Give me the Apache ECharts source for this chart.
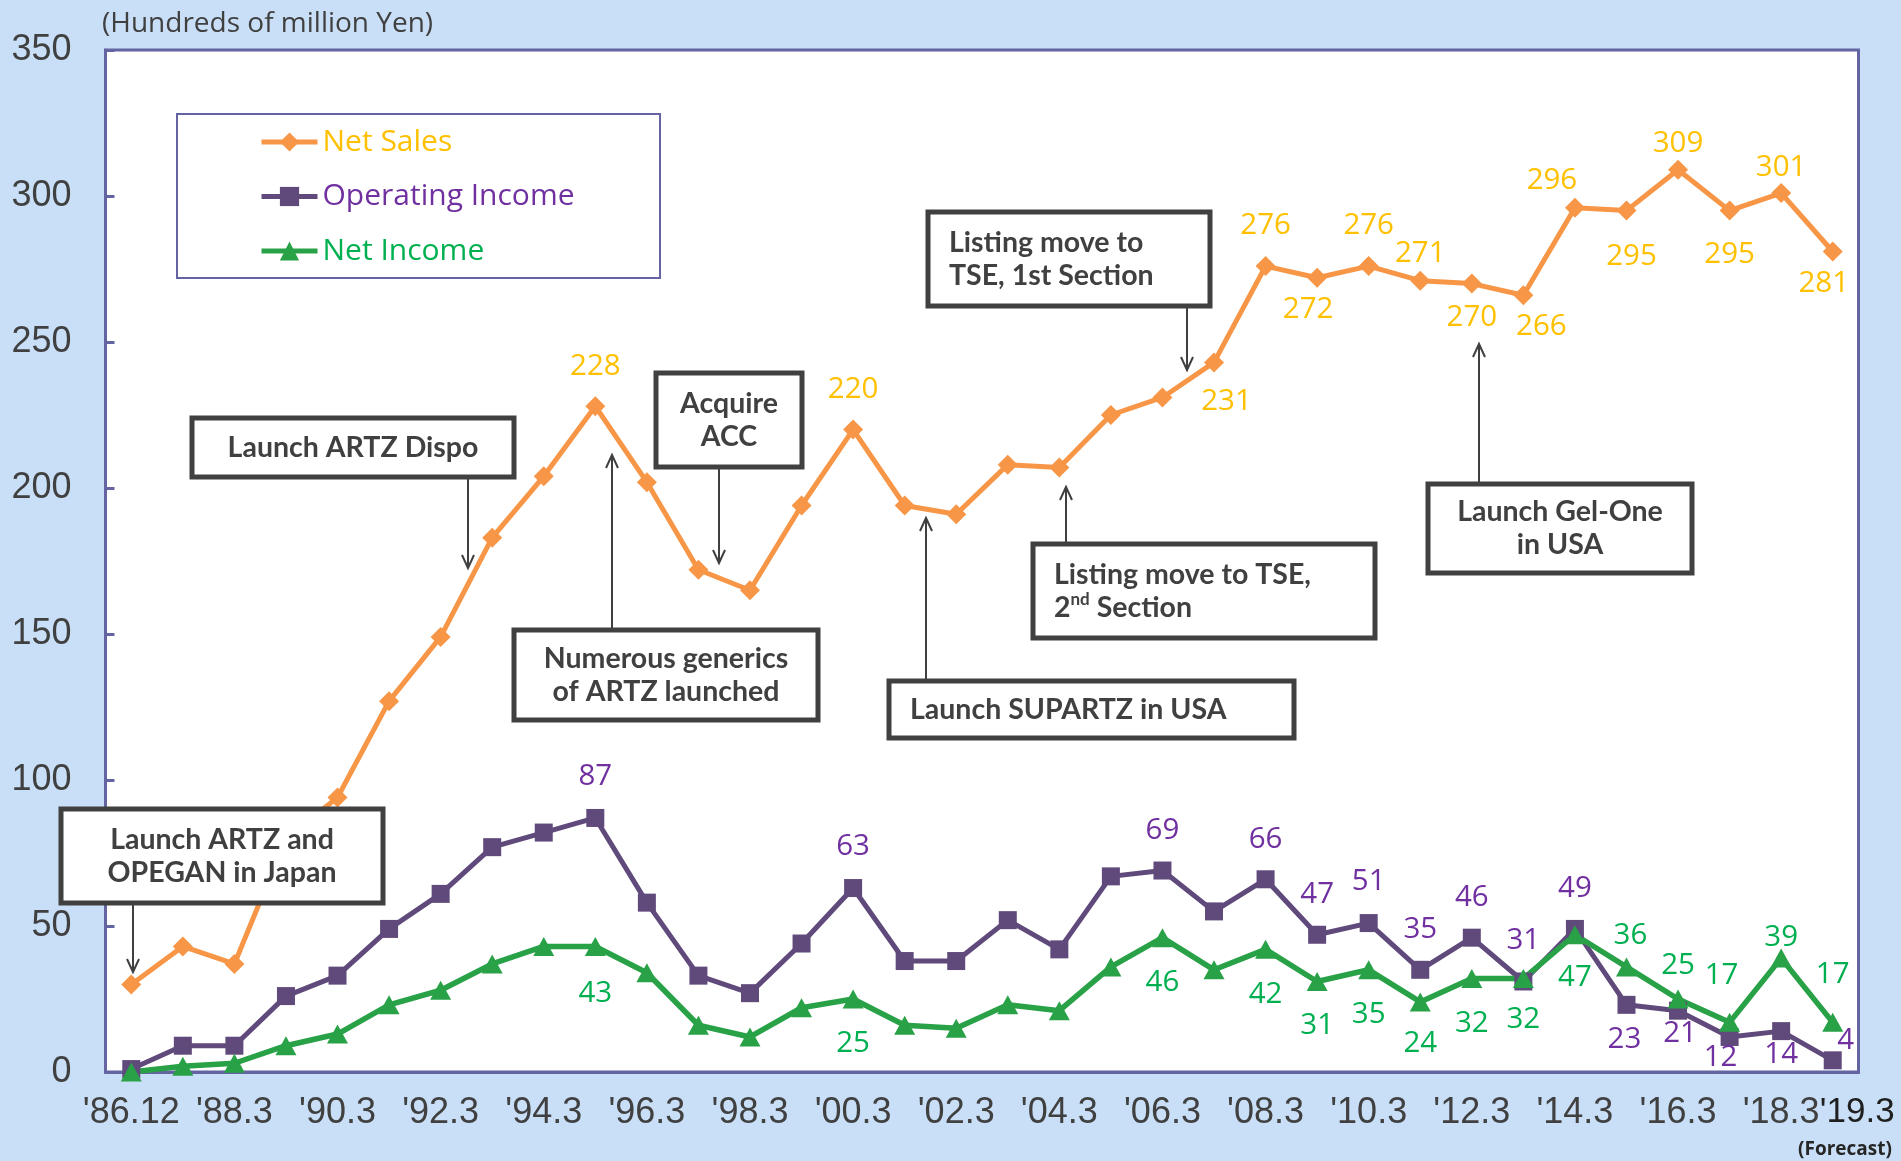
<!DOCTYPE html>
<html>
<head>
<meta charset="utf-8">
<title>Net Sales / Operating Income / Net Income</title>
<script src="https://cdn.jsdelivr.net/npm/echarts@6/dist/echarts.min.js"></script>
<style>
  html, body { margin: 0; padding: 0; background: #c9dff7; }
  #chart { width: 1901px; height: 1161px; }
</style>
</head>
<body>
<div id="chart"></div>
<script>
// fiscal periods (x axis)
const periods = ["'86.12", "'87.3", "'88.3", "'89.3", "'90.3", "'91.3", "'92.3", "'93.3", "'94.3", "'95.3",
  "'96.3", "'97.3", "'98.3", "'99.3", "'00.3", "'01.3", "'02.3", "'03.3", "'04.3", "'05.3",
  "'06.3", "'07.3", "'08.3", "'09.3", "'10.3", "'11.3", "'12.3", "'13.3", "'14.3", "'15.3",
  "'16.3", "'17.3", "'18.3", "'19.3"];

// hundreds of million yen
const netSales = [30, 43, 37, 80, 94, 127, 149, 183, 204, 228, 202, 172, 165, 194, 220, 194, 191, 208, 207, 225,
  231, 243, 276, 272, 276, 271, 270, 266, 296, 295, 309, 295, 301, 281];
const operatingIncome = [1, 9, 9, 26, 33, 49, 61, 77, 82, 87, 58, 33, 27, 44, 63, 38, 38, 52, 42, 67,
  69, 55, 66, 47, 51, 35, 46, 31, 49, 23, 21, 12, 14, 4];
const netIncome = [0, 2, 3, 9, 13, 23, 28, 37, 43, 43, 34, 16, 12, 22, 25, 16, 15, 23, 21, 36,
  46, 35, 42, 31, 35, 24, 32, 32, 47, 36, 25, 17, 39, 17];

const yTicks = [0, 50, 100, 150, 200, 250, 300, 350];

// which points carry a value label, and where it sits (offset from the marker, px)
const salesLabelAt = { 9: [0, -40], 14: [0, -40], 20: [64, 4], 22: [0, -40], 23: [-9, 32], 24: [0, -40],
  25: [0, -27], 26: [0, 34], 27: [18, 31], 28: [-23, -27], 29: [5, 46], 30: [0, -26], 31: [0, 44],
  32: [0, -25], 33: [-9, 32] };
const opLabelAt = { 9: [0, -41], 14: [0, -41], 20: [0, -40], 22: [0, -40], 23: [0, -40], 24: [0, -41],
  25: [0, -40], 26: [0, -40], 27: [0, -41], 28: [0, -40], 29: [-2, 35], 30: [2, 23], 31: [-9, 21],
  32: [0, 23], 33: [13, -20] };
const niLabelAt = { 9: [0, 47], 14: [0, 45], 20: [0, 45], 22: [0, 45], 23: [0, 44], 24: [0, 45],
  25: [0, 42], 26: [0, 45], 27: [0, 41], 28: [0, 43], 29: [4, -31], 30: [0, -33], 31: [-8, -47],
  32: [0, -21], 33: [0, -48] };

// event call-outs: text, box [x, y, w, h], text anchor, arrow [x, fromY, toY]
const callouts = [
  { text: "Launch ARTZ and\nOPEGAN in Japan", box: [61, 809, 322, 94], align: "center", arrow: [133, 903, 972] },
  { text: "Launch ARTZ Dispo", box: [192, 418, 322, 59], align: "center", arrow: [468, 477, 568] },
  { text: "Numerous generics\nof ARTZ launched", box: [514, 630, 304, 90], align: "center", arrow: [612, 630, 455] },
  { text: "Acquire\nACC", box: [656, 373, 146, 94], align: "center", arrow: [719, 467, 563] },
  { text: "Listing move to\nTSE, 1st Section", box: [928, 212, 282, 94], align: "left", arrow: [1187, 306, 370] },
  { text: "Launch SUPARTZ in USA", box: [889, 681, 405, 57], align: "left", arrow: [926, 681, 518] },
  { text: "{t|Listing move to TSE,}\n{t|2}{sup|nd}{t| Section}", box: [1033, 544, 342, 94], align: "left", arrow: [1066, 544, 487] },
  { text: "Launch Gel-One\nin USA", box: [1428, 484, 264, 89], align: "center", arrow: [1479, 484, 344] }
];

const FRAME = "#6464a2";
const INK = "#404040";

const withLabels = (values, labelAt) =>
  values.map((v, i) => (labelAt[i] ? { value: v, label: { show: true, offset: labelAt[i] } } : v));

const buildGraphics = () => {
  const els = [];
  // legend frame
  els.push({
    type: "rect", z: 1,
    shape: { x: 177, y: 114, width: 483, height: 164 },
    style: { fill: "#ffffff", stroke: FRAME, lineWidth: 2 }
  });
  // unit note
  els.push({
    type: "text", z: 5,
    style: { text: "(Hundreds of million Yen)", x: 102, y: 24, fill: INK,
      font: '28px "Open Sans"', textVerticalAlign: "middle" }
  });
  els.push({
    type: "text", z: 5,
    style: { text: "(Forecast)", x: 1845, y: 1150, fill: "#262626",
      font: 'bold 19px "Open Sans"', textAlign: "center", textVerticalAlign: "middle" }
  });

  callouts.forEach((c) => {
    const [bx, by, bw, bh] = c.box;
    const [ax, a0, a1] = c.arrow;
    const dir = a1 > a0 ? 1 : -1;
    els.push({
      type: "line", z: 9,
      shape: { x1: ax, y1: a0, x2: ax, y2: a1 },
      style: { stroke: INK, lineWidth: 2 }
    });
    els.push({
      type: "polyline", z: 9,
      shape: { points: [[ax - 6, a1 - dir * 13], [ax, a1], [ax + 6, a1 - dir * 13]] },
      style: { stroke: INK, lineWidth: 2, fill: null }
    });
    els.push({
      type: "rect", z: 10,
      shape: { x: bx, y: by, width: bw, height: bh },
      style: { fill: "#ffffff", stroke: INK, lineWidth: 5 }
    });
    els.push({
      type: "text", z: 11,
      style: {
        text: c.text,
        x: c.align === "center" ? bx + bw / 2 : bx + 21,
        y: by + bh / 2,
        fill: INK,
        font: 'bold 28.5px "Lato"',
        lineHeight: 33,
        textAlign: c.align,
        textVerticalAlign: "middle",
        rich: {
          t: { fontSize: 28.5, fontWeight: "bold", fontFamily: "Lato", lineHeight: 33, fill: INK },
          sup: { fontSize: 17, fontWeight: "bold", fontFamily: "Lato", lineHeight: 33, padding: [0, 0, 16, 0], fill: INK }
        }
      }
    });
  });
  return els;
};

const chart = echarts.init(document.getElementById("chart"));

const option = {
  backgroundColor: "#c9dff7",
  animation: false,
  grid: {
    left: 105.5, right: 42.5, top: 50, bottom: 89,
    show: true, backgroundColor: "#ffffff", borderColor: FRAME, borderWidth: 3
  },
  legend: {
    orient: "vertical",
    left: 259, top: 125,
    padding: 0,
    itemWidth: 56, itemHeight: 24, itemGap: 20.5,
    selectedMode: false,
    lineStyle: { width: 5 },
    textStyle: { fontSize: 30, fontFamily: "Open Sans", lineHeight: 34 },
    data: [
      { name: "Net Sales", textStyle: { color: "#ffc000" } },
      { name: "Operating Income", textStyle: { color: "#7030a0" } },
      { name: "Net Income", textStyle: { color: "#00b050" } }
    ]
  },
  xAxis: {
    type: "category",
    data: periods,
    boundaryGap: true,
    axisLine: { show: true, lineStyle: { color: FRAME, width: 3 } },
    axisTick: { show: false },
    axisLabel: {
      interval: (i) => i % 2 === 0 || i === periods.length - 1,
      margin: 23,
      color: INK,
      fontSize: 36,
      fontFamily: "Liberation Sans",
      formatter: (v, i) => (i === periods.length - 1 ? "{last|" + v + "}" : v),
      rich: {
        last: { padding: [0, 0, 0, 49], color: "#1f1f1f", fontSize: 35, fontFamily: "Liberation Sans" }
      }
    }
  },
  yAxis: {
    type: "value",
    min: yTicks[0],
    max: yTicks[yTicks.length - 1],
    interval: yTicks[1] - yTicks[0],
    splitLine: { show: false },
    axisLine: { show: true, lineStyle: { color: FRAME, width: 3 } },
    axisTick: { show: true, inside: true, length: 9, lineStyle: { color: FRAME, width: 3 } },
    axisLabel: { margin: 34, color: INK, fontSize: 36, fontFamily: "Liberation Sans" }
  },
  series: [
    {
      name: "Net Sales",
      type: "line",
      data: withLabels(netSales, salesLabelAt),
      symbol: "diamond",
      symbolSize: 20,
      lineStyle: { color: "#f79646", width: 5 },
      itemStyle: { color: "#f79646" },
      label: { show: false, position: "inside", color: "#ffc000", fontSize: 29.5, fontFamily: "Open Sans" }
    },
    {
      name: "Operating Income",
      type: "line",
      data: withLabels(operatingIncome, opLabelAt),
      symbol: "rect",
      symbolSize: 18,
      lineStyle: { color: "#604a7b", width: 5 },
      itemStyle: { color: "#604a7b" },
      label: { show: false, position: "inside", color: "#7030a0", fontSize: 29.5, fontFamily: "Open Sans" }
    },
    {
      name: "Net Income",
      type: "line",
      data: withLabels(netIncome, niLabelAt),
      symbol: "triangle",
      symbolSize: [21, 19],
      lineStyle: { color: "#28a147", width: 5.5 },
      itemStyle: { color: "#28a147" },
      label: { show: false, position: "inside", color: "#00b050", fontSize: 29.5, fontFamily: "Open Sans" }
    }
  ],
  graphic: buildGraphics()
};

chart.setOption(option);
</script>
</body>
</html>
